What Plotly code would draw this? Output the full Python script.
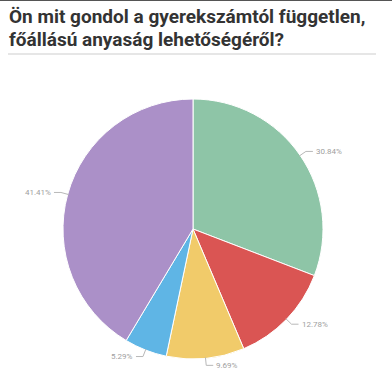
import math
import plotly.graph_objects as go

labels = ["A", "B", "C", "D", "E"]
values = [30.84, 12.78, 9.69, 5.29, 41.41]
pct_labels = ["30.84%", "12.78%", "9.69%", "5.29%", "41.41%"]
colors = ["#8ec5a7", "#da5553", "#f1cb6a", "#5fb5e5", "#ab90c8"]
title_lines = ["Ön mit gondol a gyerekszámtól független,", "főállású anyaság lehetőségéről?"]

W, H = 392, 378
CX, CY, R = 193, 229, 130

def px(x):
    return x / W

def py(y):
    return 1 - y / H

fig = go.Figure()
fig.add_trace(go.Pie(
    labels=labels, values=values, sort=False, direction="clockwise", rotation=0,
    marker=dict(colors=colors, line=dict(color="white", width=1)),
    textinfo="none", hoverinfo="label+percent", showlegend=False,
    domain=dict(x=[px(CX - R), px(CX + R)], y=[py(CY + R), py(CY - R)]),
))

shapes = []
annotations = []
total = sum(values)
cum = 0
for v, lab in zip(values, pct_labels):
    mid = (cum + v / 2) / total * 2 * math.pi
    cum += v
    sx, sy = math.sin(mid), -math.cos(mid)
    x0, y0 = CX + (R - 1) * sx, CY + (R - 1) * sy
    x1, y1 = CX + (R + 7) * sx, CY + (R + 7) * sy
    side = 1 if sx >= 0 else -1
    x2 = x1 + side * 7
    shapes.append(dict(type="path", xref="paper", yref="paper",
                       path=f"M {px(x0)},{py(y0)} L {px(x1)},{py(y1)} L {px(x2)},{py(y1)}",
                       line=dict(color="#b8b8b8", width=1)))
    annotations.append(dict(x=px(x2 + side * 1), y=py(y1), xref="paper", yref="paper",
                            text=lab, showarrow=False,
                            xanchor="left" if side > 0 else "right", yanchor="middle",
                            font=dict(family="Roboto", size=8, color="#a0a0a0")))

for i, t in enumerate(title_lines):
    annotations.append(dict(x=px(7), y=py(30 + i * 23), xref="paper", yref="paper",
                            text=f"<b>{t}</b>", showarrow=False, xanchor="left", yanchor="bottom",
                            font=dict(family="Roboto", size=19, color="#333333")))

shapes.append(dict(type="line", xref="paper", yref="paper", x0=px(8), x1=px(376), y0=py(54), y1=py(54),
                   line=dict(color="#e6e6e6", width=2)))
shapes.append(dict(type="line", xref="paper", yref="paper", x0=0, x1=1, y0=py(0.5), y1=py(0.5),
                   line=dict(color="#555555", width=1)))

fig.update_layout(width=W, height=H, margin=dict(l=0, r=0, t=0, b=0),
                  paper_bgcolor="white", plot_bgcolor="white",
                  shapes=shapes, annotations=annotations)

fig.write_html("out.html", config={"displayModeBar": False},
               post_script="document.body.style.margin='0';document.body.style.overflow='hidden';")
